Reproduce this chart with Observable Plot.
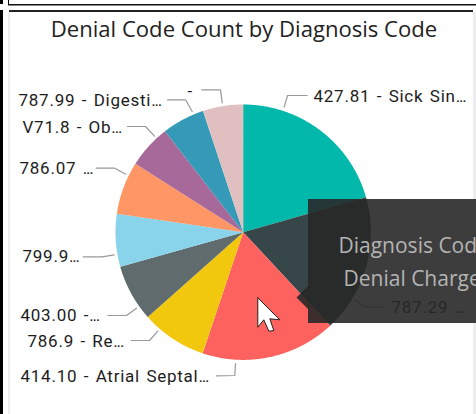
<!DOCTYPE html>
<html>
<head>
<meta charset="utf-8">
<script src="https://cdn.jsdelivr.net/npm/d3@7"></script>
<script src="https://cdn.jsdelivr.net/npm/@observablehq/plot@0.6"></script>
<style>html,body{margin:0;padding:0;background:#fff;overflow:hidden}svg{display:block}</style>
</head>
<body>
<div id="chart"></div>
<script>
// Data
const codes = ["427.81","787.29","414.10","786.9","403.00","799.9","786.07","V71.8","787.99","-"];
const counts = [20.6,17.5,17.1,8.3,7.2,6.7,6.7,5.5,5.4,5.1];
const colors = ["#01B8AA","#374649","#FD625E","#F2C80F","#5F6B6D","#8AD4EB","#FE9666","#A66999","#3599B8","#DFBFBF"];
const labels = ["427.81 - Sick Sin...","787.29 ...","414.10 - Atrial Septal...","786.9 - Re...","403.00 -...","799.9...","786.07 ...","V71.8 - Ob...","787.99 - Digesti...","-"];

// Layout
const W = 476, H = 414, cx = 242.7, cy = 231.7, R = 127.7;
const labelX = [313,391,20,27,20,22,19,22,18,187];
const labelY = [96,307,376.5,341.5,315,256.5,168.5,127,100,91];
const leaders = [
  [[283.7,106.7],[287,95],[306.7,95]],
  [[354.3,299.3],[364.3,306.7],[384.3,306.7]],
  [[235,363],[234.3,375],[216,375.3]],
  [[157.3,330.7],[149,340],[130.7,340]],
  [[136,307.7],[126,315],[107.3,315]],
  [[113.7,254.3],[101.7,256.3],[82.7,256.3]],
  [[125.3,173.7],[114.3,167.7],[95.7,167.7]],
  [[154,135.7],[145,126],[127,126]],
  [[191.7,111],[185,99.3],[167,99.3]],
  [[221.7,102.3],[220,89.3],[201.3,89.3]]
];

// Slices: each is a polygon traced through the x/y scales
const pieArcs = d3.pie().sort(null).value((d) => d)(counts);
const slices = pieArcs.flatMap((a, i) => {
  const n = Math.ceil((a.endAngle - a.startAngle) * 180 / Math.PI * 2);
  const pts = [{code: codes[i], x: cx, y: cy}];
  for (let k = 0; k <= n; ++k) {
    const t = a.startAngle + (a.endAngle - a.startAngle) * k / n;
    pts.push({code: codes[i], x: cx + R * Math.sin(t), y: cy - R * Math.cos(t)});
  }
  return pts;
});
const labelRows = labels.map((t, i) => ({t, x: labelX[i], y: labelY[i]}));
const leaderRows = leaders.flatMap((l, i) => l.map(([x, y]) => ({i, x, y})));

const tooltipArrow = [[308,285],[296,297],[308,309]].map(([x, y]) => ({x, y}));
const cursor = [[257.3,297.3],[257.3,326.7],[263.3,319.3],[268.3,330.7],[273.3,330],[269.3,318.3],[279.3,319.3],[257.3,297.3]].map(([x, y]) => ({x, y}));
const tooltipText = [
  {t: "Diagnosis Code", x: 338, y: 246},
  {t: "Denial Charge", x: 343, y: 279}
];
const titleFont = "'Open Sans', sans-serif";
const labelFont = "Roboto, sans-serif";

const chart = Plot.plot({
  width: W, height: H, margin: 0,
  x: {domain: [0, W], range: [0, W], axis: null},
  y: {domain: [0, H], range: [0, H], axis: null},
  color: {domain: codes, range: colors},
  style: {background: "#fff"},
  marks: [
    // Report frame
    Plot.rect([{}], {x1: 0, x2: 3, y1: 10, y2: H, fill: "#000"}),
    Plot.rect([{}], {x1: 0, x2: 3, y1: 0, y2: 4, fill: "#000"}),
    Plot.rect([{}], {x1: 8, x2: 9, y1: 0, y2: 5, fill: "#000"}),
    Plot.rect([{}], {x1: 8, x2: W, y1: 4, y2: 5.5, fill: "#111"}),
    Plot.rect([{}], {x1: 9, x2: 473, y1: 10, y2: 12, fill: "#222"}),
    Plot.rect([{}], {x1: 8, x2: 10, y1: 12, y2: H, fill: "#eee"}),
    Plot.rect([{}], {x1: 473, x2: 476, y1: 12, y2: H, fill: "#eee"}),
    // Title
    Plot.text(["Denial Code Count by Diagnosis Code"], {
      frameAnchor: "top-left", dx: 243.5, dy: 29, text: (d) => d, textAnchor: "middle", lineAnchor: "middle",
      fontFamily: titleFont, fontSize: 22.1, fill: "#222"
    }),
    // Pie
    Plot.line(slices, {x: "x", y: "y", z: "code", fill: "code", stroke: null, curve: "linear"}),
    // Leaders and labels
    Plot.line(leaderRows, {x: "x", y: "y", z: "i", stroke: "#999", strokeWidth: 1.2}),
    Plot.text(labelRows, {x: "x", y: "y", text: "t", textAnchor: "start", lineAnchor: "middle",
      fontFamily: labelFont, fontSize: 17, fontWeight: 400, fill: "#1c1c1c"}),
    // Tooltip
    Plot.rect([{}], {x1: 308, x2: W, y1: 199, y2: 323, fill: "#282828", fillOpacity: 0.9}),
    Plot.line(tooltipArrow, {x: "x", y: "y", fill: "#282828", fillOpacity: 0.9, stroke: null}),
    Plot.text(tooltipText, {x: "x", y: "y", text: "t", textAnchor: "start", lineAnchor: "middle",
      fontFamily: titleFont, fontSize: 21, fill: "#b4b4b4"}),
    // Mouse pointer
    Plot.line(cursor, {x: "x", y: "y", fill: "#fff", stroke: "#222", strokeWidth: 1})
  ]
});
chart.querySelectorAll("text").forEach((t) => {
  const s = t.textContent;
  if (!labels.includes(s)) return;
  t.style.letterSpacing = "0.75px";
  t.style.wordSpacing = "1.5px";
  if (s.endsWith("...")) {
    const dy = t.querySelector("tspan")?.getAttribute("dy");
    t.textContent = s.slice(0, -3);
    const dots = document.createElementNS("http://www.w3.org/2000/svg", "tspan");
    dots.textContent = "...";
    dots.style.letterSpacing = "-1.2px";
    t.append(dots);
  }
});
document.getElementById("chart").append(chart);
</script>
</body>
</html>
